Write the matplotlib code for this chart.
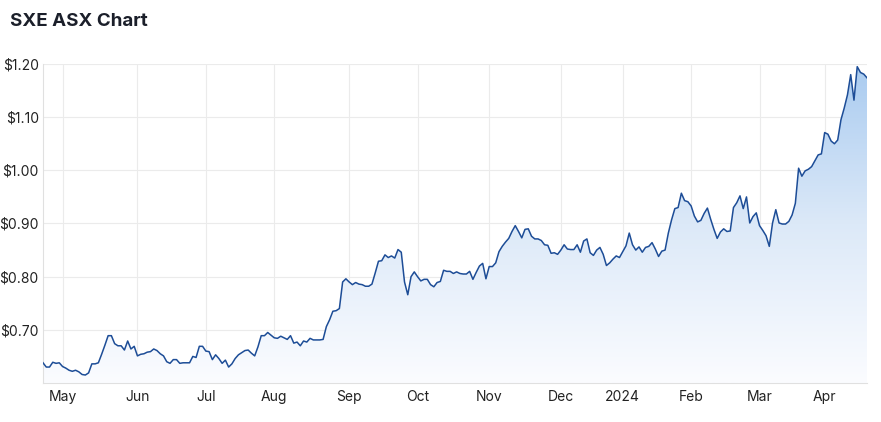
import numpy as np
import pandas as pd
import matplotlib
matplotlib.use("Agg")
import matplotlib.pyplot as plt
from matplotlib.colors import LinearSegmentedColormap

# closing prices per trading day, grouped by month
apr23 = [0.638, 0.630, 0.630, 0.639, 0.637, 0.638]
may23 = [0.631, 0.628, 0.624, 0.622, 0.624, 0.621, 0.616, 0.615, 0.619, 0.636, 0.636, 0.638,
         0.654, 0.671, 0.689, 0.689, 0.674, 0.670, 0.670, 0.662, 0.679, 0.664, 0.669]
jun23 = [0.651, 0.654, 0.655, 0.658, 0.659, 0.664, 0.661, 0.655, 0.651, 0.640, 0.637, 0.644,
         0.644, 0.637, 0.638, 0.638, 0.638, 0.650, 0.648, 0.669, 0.669]
jul23 = [0.660, 0.659, 0.644, 0.653, 0.646, 0.637, 0.643, 0.630, 0.636, 0.646, 0.653, 0.657,
         0.661, 0.662, 0.656, 0.651, 0.668, 0.689, 0.689, 0.695, 0.690]
aug23 = [0.685, 0.684, 0.688, 0.685, 0.682, 0.689, 0.675, 0.677, 0.670, 0.679, 0.677, 0.684,
         0.681, 0.681, 0.681, 0.682, 0.706, 0.719, 0.735, 0.736, 0.740, 0.790, 0.796]
sep23 = [0.790, 0.785, 0.789, 0.786, 0.785, 0.782, 0.782, 0.786, 0.807, 0.829, 0.830, 0.841,
         0.836, 0.839, 0.835, 0.851, 0.846, 0.790, 0.766, 0.800, 0.809]
oct23 = [0.800, 0.792, 0.795, 0.795, 0.785, 0.781, 0.789, 0.791, 0.812, 0.810, 0.810, 0.806,
         0.809, 0.806, 0.805, 0.805, 0.810, 0.795, 0.808, 0.820, 0.825, 0.796]
nov23 = [0.819, 0.819, 0.826, 0.847, 0.857, 0.865, 0.872, 0.885, 0.896, 0.885, 0.873, 0.889,
         0.890, 0.876, 0.871, 0.871, 0.868, 0.860, 0.859, 0.844, 0.845, 0.842]
dec23 = [0.850, 0.860, 0.852, 0.851, 0.851, 0.860, 0.846, 0.867, 0.871, 0.845, 0.840, 0.850,
         0.855, 0.842, 0.821, 0.826, 0.833, 0.839, 0.836]
jan24 = [0.847, 0.858, 0.882, 0.860, 0.850, 0.856, 0.846, 0.855, 0.857, 0.864, 0.852, 0.838,
         0.848, 0.850, 0.882, 0.907, 0.928, 0.930, 0.957, 0.943, 0.941]
feb24 = [0.933, 0.914, 0.903, 0.906, 0.919, 0.929, 0.908, 0.889, 0.872, 0.884, 0.890, 0.885,
         0.886, 0.930, 0.939, 0.952, 0.928, 0.950, 0.901, 0.913, 0.920]
mar24 = [0.896, 0.887, 0.877, 0.857, 0.901, 0.926, 0.901, 0.899, 0.899, 0.904, 0.916, 0.938,
         1.004, 0.989, 0.999, 1.002, 1.007, 1.018, 1.029, 1.031]
apr24 = [1.071, 1.068, 1.055, 1.050, 1.057, 1.095, 1.117, 1.142, 1.180, 1.132, 1.195, 1.184,
         1.181, 1.174]

asx_holidays = ['2023-04-25', '2023-06-12', '2023-12-25', '2023-12-26', '2024-01-01',
                '2024-01-26', '2024-03-29', '2024-04-01']
yticks = [0.70, 0.80, 0.90, 1.00, 1.10, 1.20]

prices = apr23 + may23 + jun23 + jul23 + aug23 + sep23 + oct23 + nov23 + dec23 + jan24 + feb24 + mar24 + apr24
days = pd.bdate_range('2023-04-20', '2024-04-19').drop(pd.to_datetime(asx_holidays))
assert len(days) == len(prices)

x = np.arange(len(days))
y = np.array(prices)

# first trading day of each month
tick_pos = [i for i in range(1, len(days)) if days[i].month != days[i - 1].month]
tick_lab = [days[i].strftime('%Y') if days[i].month == 1 else days[i].strftime('%b') for i in tick_pos]

plt.rcParams['font.family'] = ['Inter', 'DejaVu Sans']

fig = plt.figure(figsize=(8.81, 4.22), dpi=100)
ax = fig.add_axes([43 / 881, 39 / 422, 824 / 881, 319 / 422])

ymin, ymax = 0.60, 1.20
ax.set_xlim(0, len(x) - 1)
ax.set_ylim(ymin, ymax)

# gradient fill under the line
cmap = LinearSegmentedColormap.from_list('fade', ['#fbfcff', '#dce9f8', '#a9cbf0'])
grad = np.linspace(0, 1, 256).reshape(-1, 1)
poly = ax.fill_between(x, y, ymin, color='none', lw=0)
img = ax.imshow(grad, cmap=cmap, aspect='auto', origin='lower',
                extent=[0, len(x) - 1, ymin, ymax], zorder=1)
img.set_clip_path(poly.get_paths()[0], transform=ax.transData)

ax.plot(x, y, color='#1d4d97', lw=1.1, zorder=3)

ax.set_yticks(yticks)
ax.set_yticklabels(['${:.2f}'.format(v) for v in yticks])
ax.set_xticks(tick_pos)
ax.set_xticklabels(tick_lab)
ax.grid(True, color='#ebebeb', lw=0.8, zorder=0)
ax.set_axisbelow(True)
ax.tick_params(length=0, labelsize=10, colors='#222222')
ax.tick_params(axis='y', pad=3)
ax.tick_params(axis='x', pad=5)
for s in ['top', 'right']:
    ax.spines[s].set_visible(False)
for s in ['left', 'bottom']:
    ax.spines[s].set_color('#e0e0e0')
    ax.spines[s].set_linewidth(0.8)

fig.text(10 / 881, 1 - 21 / 422, 'SXE ASX Chart', fontsize=13.5, fontweight='bold',
         color='#1b1f2a', va='center', ha='left')

fig.savefig('out.png', dpi=100)
